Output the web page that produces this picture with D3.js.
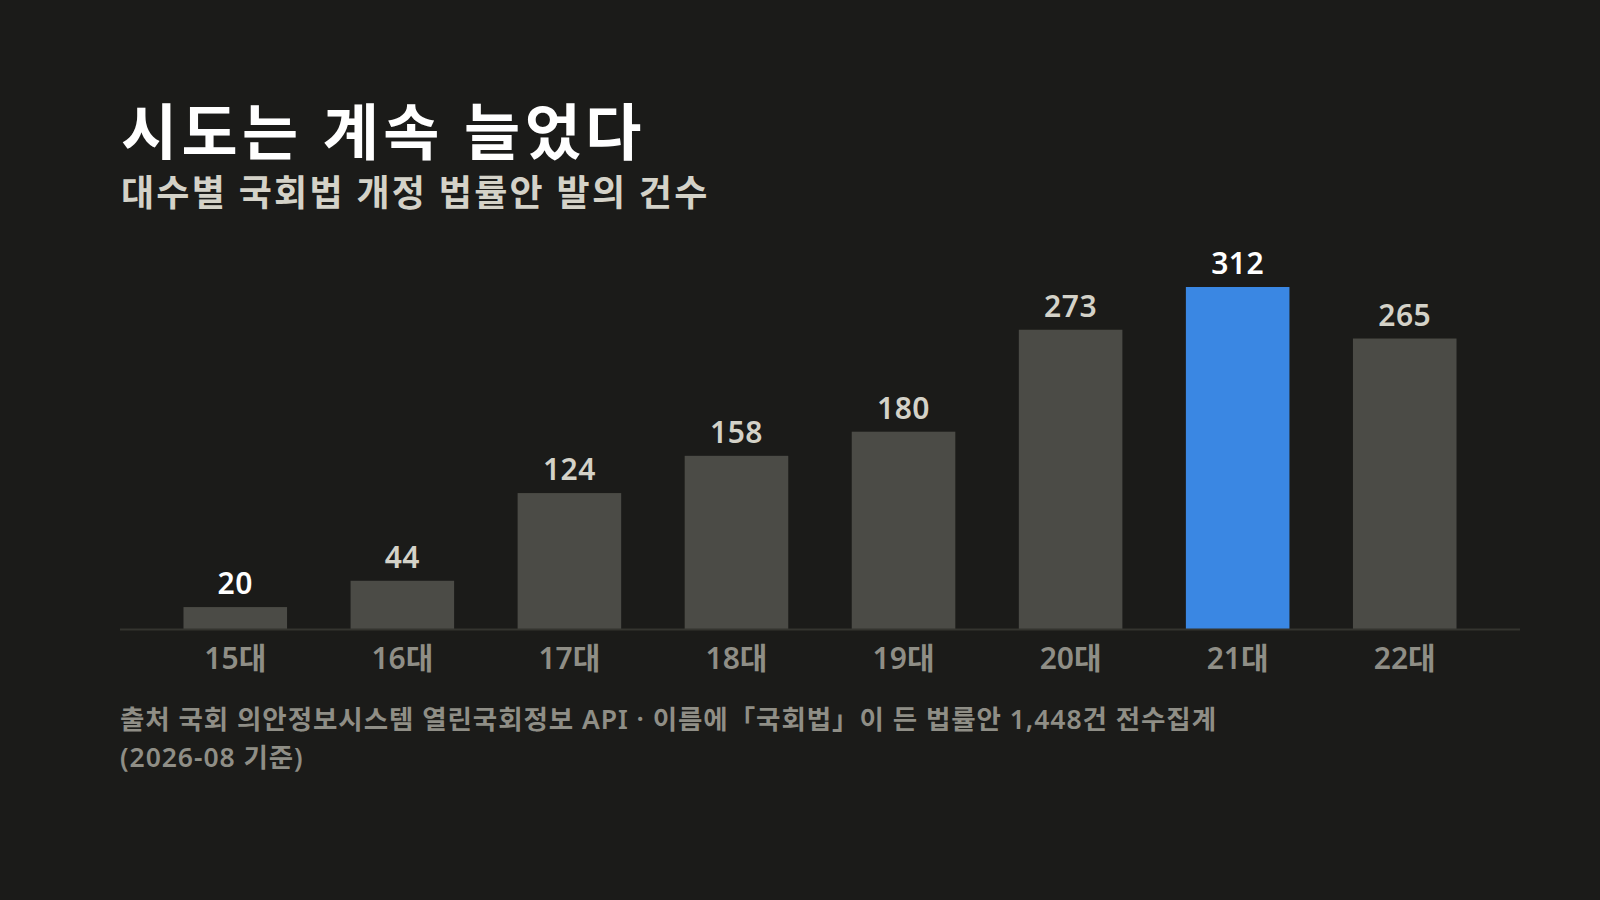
<!DOCTYPE html>
<html><head><meta charset="utf-8">
<script src="https://cdn.jsdelivr.net/npm/d3@7"></script>
<style>
html,body{margin:0;padding:0;background:#1b1b19;}
svg{display:block;}
text{font-family:"Noto Sans","Noto Sans CJK KR",sans-serif;}
</style></head>
<body>
<script>
const categories = ["15대","16대","17대","18대","19대","20대","21대","22대"];
const values = [20,44,124,158,180,273,312,265];
const highlight = "21대";
const whiteLabels = ["15대","21대"];
const title = "시도는 계속 늘었다";
const subtitle = "대수별 국회법 개정 법률안 발의 건수";
const sourceLines = ["출처 국회 의안정보시스템 열린국회정보 API · 이름에「국회법」이 든 법률안 1,448건 전수집계","(2026-08 기준)"];

const W = 1600, H = 900;
const svg = d3.select("body").append("svg").attr("width", W).attr("height", H);
svg.append("rect").attr("width", W).attr("height", H).attr("fill", "#1b1b19");

const x = d3.scaleBand().domain(categories).range([120, 1520]).paddingInner(0.38).paddingOuter(0.38);
const y = d3.scaleLinear().domain([0, 312]).range([629, 287]);

svg.append("text").attr("x", 121).attr("y", 155).attr("fill", "#ffffff")
  .attr("font-size", 61).attr("font-weight", 700).attr("letter-spacing", 4.4).text(title);
svg.append("text").attr("x", 121).attr("y", 206).attr("fill", "#d4d2c8")
  .attr("font-size", 36).attr("font-weight", 700).attr("letter-spacing", 2.25).text(subtitle);

const data = categories.map((c, i) => ({c, v: values[i]}));

svg.selectAll("rect.bar").data(data).join("rect").attr("class", "bar")
  .attr("x", d => x(d.c)).attr("width", x.bandwidth())
  .attr("y", d => y(d.v)).attr("height", d => y(0) - y(d.v))
  .attr("fill", d => d.c === highlight ? "#3a87e3" : "#4b4b46");

svg.selectAll("text.val").data(data).join("text").attr("class", "val")
  .attr("x", d => x(d.c) + x.bandwidth() / 2).attr("y", d => y(d.v) - 13)
  .attr("text-anchor", "middle").attr("font-size", 30).attr("font-weight", 600)
  .attr("letter-spacing", 0.5)
  .attr("fill", d => whiteLabels.includes(d.c) ? "#ffffff" : "#d4d2c8")
  .text(d => d.v);

const axis = d3.axisBottom(x).tickSize(0).tickPadding(19);
const g = svg.append("g").attr("transform", `translate(0,${y(0)})`).call(axis);
g.select(".domain").attr("stroke", "#34342f").attr("stroke-width", 2).attr("d", "M120,0.5H1520");
g.selectAll("text").attr("font-size", 30).attr("font-weight", 600).attr("fill", "#8f8e86")
  .attr("dy", "0.71em").style("font-family", '"Noto Sans","Noto Sans CJK KR",sans-serif');

const src = svg.append("text").attr("x", 120).attr("y", 729).attr("fill", "#8f8e86")
  .attr("font-size", 26.5).attr("font-weight", 600).attr("letter-spacing", 0.95);
src.selectAll("tspan").data(sourceLines).join("tspan")
  .attr("x", 120).attr("dy", (d, i) => i === 0 ? 0 : 38).text(d => d);
</script>
</body></html>
